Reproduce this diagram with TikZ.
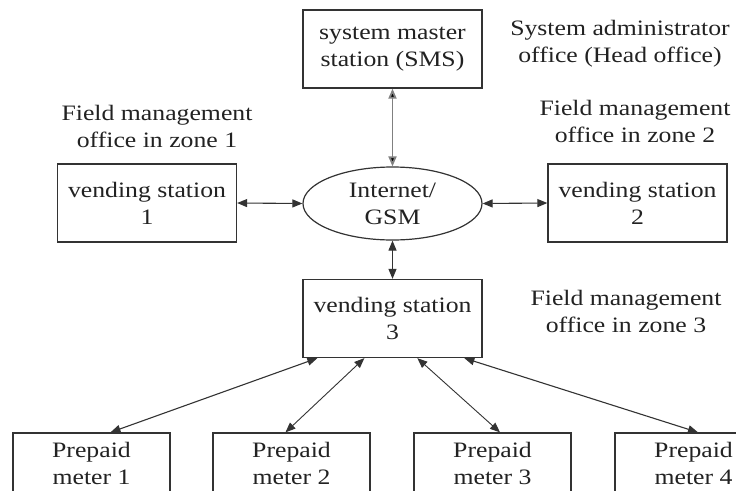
\documentclass[tikz,border=0pt]{standalone}
\usepackage{fontspec}
\setmainfont{Liberation Serif}[FakeStretch=1.17]
\usetikzlibrary{arrows.meta,shapes.geometric}
\definecolor{ink}{HTML}{222222}
\definecolor{edge}{HTML}{333333}
\begin{document}
\begin{tikzpicture}[x=1pt,y=-1pt,
  every node/.style={font=\fontsize{22}{27}\selectfont, text=ink},
  box/.style={draw=edge, line width=1.3pt, minimum width=179pt, minimum height=78pt, inner sep=0pt, align=center},
  meterbox/.style={draw=edge, line width=1.3pt, minimum width=157pt, minimum height=60pt, inner sep=0pt, align=center},
  net/.style={draw=edge, line width=1.2pt, ellipse, minimum width=179pt, minimum height=73pt, inner sep=0pt, align=center},
  lbl/.style={align=center, inner sep=0pt},
  conn/.style={draw=edge, line width=1.1pt, {Triangle[length=10pt,width=8pt]}-{Triangle[length=10pt,width=8pt]}},
  thinconn/.style={draw=edge, line width=0.9pt, {Triangle[length=10pt,width=8pt]}-{Triangle[length=10pt,width=8pt]}}
]
\clip (0,0) rectangle (736,490);
\fill[white] (0,0) rectangle (736,490);

\node[box] (sms) at (392.5,49) {system master\\station (SMS)};
\node[net] (net) at (392.5,203.5) {Internet/\\GSM};
\node[box] (vs1) at (147,203) {vending station\\1};
\node[box] (vs2) at (637.5,203) {vending station\\2};
\node[box] (vs3) at (392.5,318.5) {vending station\\3};

\node[meterbox] (m1) at (91.5,463) {Prepaid\\meter 1};
\node[meterbox] (m2) at (291.5,463) {Prepaid\\meter 2};
\node[meterbox] (m3) at (492.5,463) {Prepaid\\meter 3};
\node[meterbox] (m4) at (693.5,463) {Prepaid\\meter 4};

\node[lbl] (hq) at (620,43.5) {System administrator\\office (Head office)};
\node[lbl] (z1) at (157,126.5) {Field management\\office in zone 1};
\node[lbl] (z2) at (635,121) {Field management\\office in zone 2};
\node[lbl] (z3) at (626,311) {Field management\\office in zone 3};

\draw[conn, draw=gray, line width=1.8pt, arrows={Triangle[length=10pt,width=8pt,fill=black]-Triangle[length=10pt,width=8pt,fill=black]}] (sms.south) -- (net.north);
\draw[conn] (vs1.east) -- (net.west);
\draw[conn] (net.east) -- (vs2.west);
\draw[conn] (net.south) -- (vs3.north);

\draw[conn] ([xshift=15pt]vs3.south west) -- ([xshift=19pt]m1.north);
\draw[thinconn] ([xshift=62pt]vs3.south west) -- ([xshift=-6pt]m2.north);
\draw[thinconn] ([xshift=115pt]vs3.south west) -- ([xshift=7.5pt]m3.north);
\draw[conn] ([xshift=162pt]vs3.south west) -- ([xshift=4.5pt]m4.north);
\end{tikzpicture}
\end{document}
